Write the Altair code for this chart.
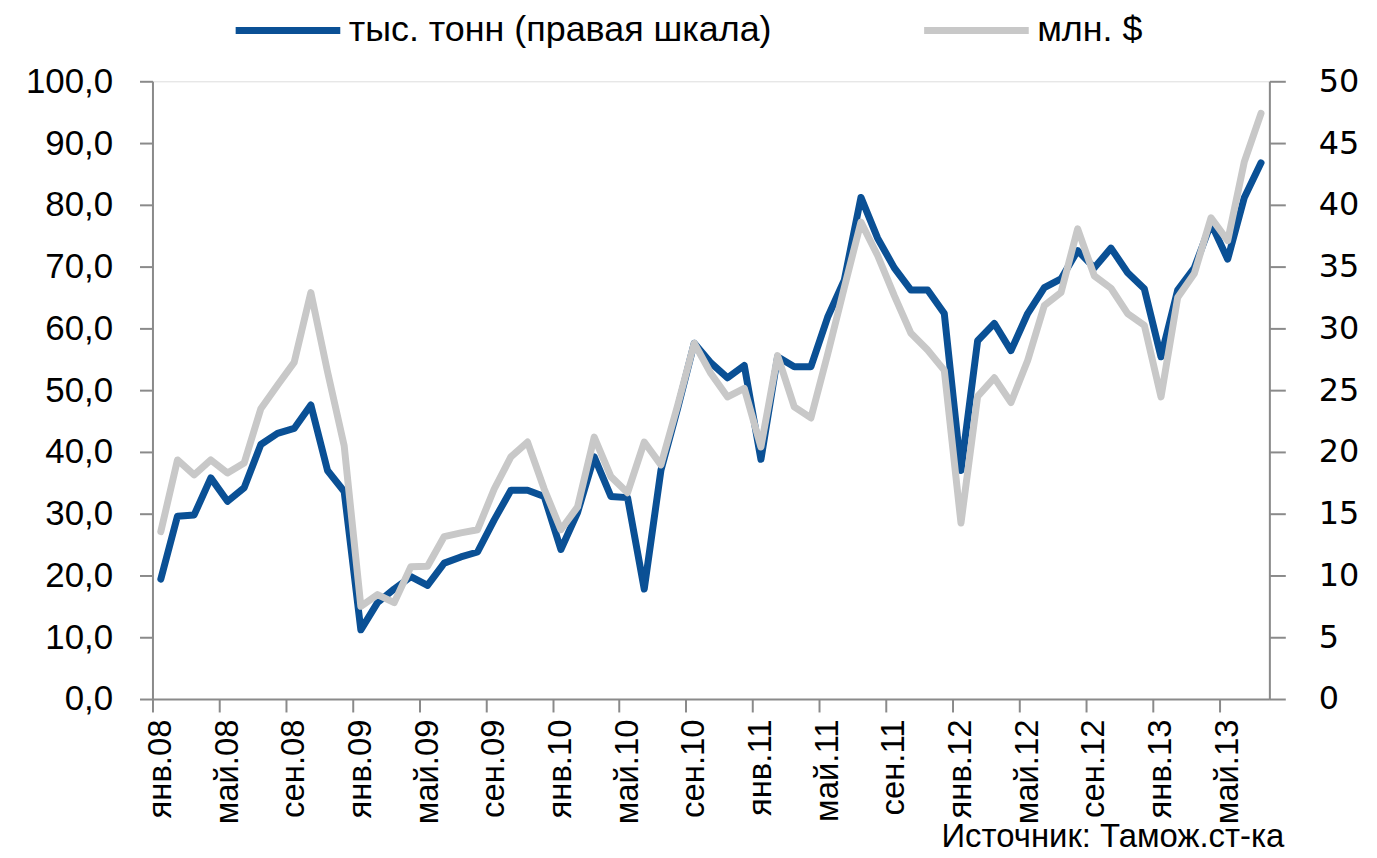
import altair as alt
import pandas as pd

month_names = ["янв", "фев", "мар", "апр", "май", "июн", "июл", "авг", "сен", "окт", "ноя", "дек"]
months = [f"{month_names[i % 12]}.{8 + i // 12:02d}" for i in range(67)]

series_names = ["тыс. тонн (правая шкала)", "млн. $"]
series_colors = ["#0A5095", "#C8C8C8"]

# тыс. тонн (right axis)
tonnes = [9.7, 14.8, 14.9, 17.9, 16.0, 17.1, 20.6, 21.5, 21.9, 23.8, 18.5, 16.8,
          5.6, 7.8, 8.9, 9.9, 9.2, 11.0, 11.5, 11.9, 14.5, 16.9, 16.9, 16.4,
          12.1, 15.1, 19.6, 16.4, 16.3, 8.9, 18.5, 23.5, 28.8, 27.2, 26.0, 27.0,
          19.4, 27.7, 26.9, 26.9, 30.9, 33.9, 40.6, 37.3, 34.9, 33.1, 33.1, 31.2,
          18.5, 29.0, 30.4, 28.2, 31.2, 33.3, 34.0, 36.3, 34.9, 36.5, 34.5, 33.2,
          27.7, 33.1, 34.9, 38.5, 35.6, 40.6, 43.4]

# млн. $ (left axis)
usd = [27.1, 38.7, 36.3, 38.7, 36.6, 38.2, 47.0, 50.8, 54.5, 65.8, 53.0, 41.0,
       15.0, 16.9, 15.6, 21.4, 21.5, 26.3, 26.9, 27.4, 34.0, 39.2, 41.6, 34.0,
       27.4, 31.1, 42.4, 36.0, 33.4, 41.6, 37.9, 47.5, 57.6, 52.7, 48.9, 50.3,
       40.8, 55.6, 47.3, 45.5, 55.8, 66.6, 77.2, 71.8, 65.3, 59.2, 56.5, 53.2,
       28.5, 49.0, 52.0, 48.0, 54.8, 63.7, 65.8, 76.1, 68.5, 66.5, 62.4, 60.5,
       48.9, 65.0, 68.9, 77.9, 74.2, 87.0, 94.8]

left_ticks = [0, 10, 20, 30, 40, 50, 60, 70, 80, 90, 100]
right_ticks = [0, 5, 10, 15, 20, 25, 30, 35, 40, 45, 50]
x_label_every = 4
source_text = "Источник: Тамож.ст-ка"

rows = []
for i, m in enumerate(months):
    rows.append({"idx": i, "month": m, "series": series_names[0], "value": tonnes[i]})
    rows.append({"idx": i, "month": m, "series": series_names[1], "value": usd[i]})
df = pd.DataFrame(rows)

tick_vals = [i - 0.5 for i in range(0, len(months), x_label_every)]
label_list = [months[i] for i in range(0, len(months), x_label_every)]
label_expr = "[" + ",".join(f"'{l}'" for l in label_list) + "][round((datum.value + 0.5) / %d)]" % x_label_every

AX_COLOR = "#8A8A8A"

x_enc = alt.X(
    "idx:Q",
    scale=alt.Scale(domain=[-0.5, len(months) - 0.5], nice=False, zero=False),
    axis=alt.Axis(
        values=tick_vals, labelExpr=label_expr, labelAngle=270,
        labelAlign="right", labelBaseline="middle", labelOffset=8,
        labelPadding=7, labelFontSize=33, labelFont="Liberation Sans",
        labelColor="#000000", tickSize=13, tickWidth=2, tickColor=AX_COLOR,
        domainColor=AX_COLOR, domainWidth=2, title=None, grid=False,
        labelOverlap=False, labelFlush=False,
    ),
)

legend = alt.Legend(
    title=None, orient="none", legendX=80, legendY=-107, direction="horizontal",
    symbolType="stroke", symbolStrokeWidth=7, symbolSize=11025,
    labelFontSize=36, labelFont="Liberation Sans", labelColor="#000000",
    labelOffset=5, columnPadding=138, padding=0, labelLimit=0,
)

color_enc = alt.Color(
    "series:N",
    scale=alt.Scale(domain=series_names, range=series_colors),
    legend=legend,
)

blue = alt.Chart(df).transform_filter(
    alt.datum.series == series_names[0]
).mark_line(strokeWidth=7, strokeJoin="round", strokeCap="round").encode(
    x=x_enc,
    y=alt.Y(
        "value:Q",
        scale=alt.Scale(domain=[0, 50], nice=False),
        axis=alt.Axis(
            orient="right", values=right_ticks, format="d", title=None, grid=False,
            labelFontSize=32, labelFont="DejaVu Sans", labelColor="#000000",
            labelPadding=33, tickSize=16, tickWidth=2, tickColor=AX_COLOR,
            domainColor=AX_COLOR, domainWidth=2,
        ),
    ),
    color=color_enc,
    order="idx:Q",
)

grey = alt.Chart(df).transform_filter(
    alt.datum.series == series_names[1]
).mark_line(strokeWidth=7, strokeJoin="round", strokeCap="round").encode(
    x=x_enc,
    y=alt.Y(
        "value:Q",
        scale=alt.Scale(domain=[0, 100], nice=False),
        axis=alt.Axis(
            orient="left", values=left_ticks,
            labelExpr="replace(format(datum.value, '.1f'), '.', ',')",
            title=None, grid=False, labelFontSize=35, labelFont="Liberation Sans",
            labelColor="#000000", labelPadding=27, tickSize=13, tickWidth=2,
            tickColor=AX_COLOR, domainColor=AX_COLOR, domainWidth=2,
        ),
    ),
    color=color_enc,
    order="idx:Q",
)

chart = alt.layer(blue, grey).resolve_scale(y="independent").properties(
    width=1121,
    height=620,
    autosize=alt.AutoSizeParams(type="none"),
    padding={"left": 145, "top": 72, "right": 100, "bottom": 156},
    title=alt.TitleParams(
        source_text, orient="bottom", anchor="end", frame="group",
        fontSize=33, font="Liberation Sans", fontWeight="normal",
        color="#000000", offset=-3, dx=15,
    ),
).configure_view(stroke=None).configure(background="white")

chart.save("out.html", embed_options={"renderer": "svg", "actions": False})
